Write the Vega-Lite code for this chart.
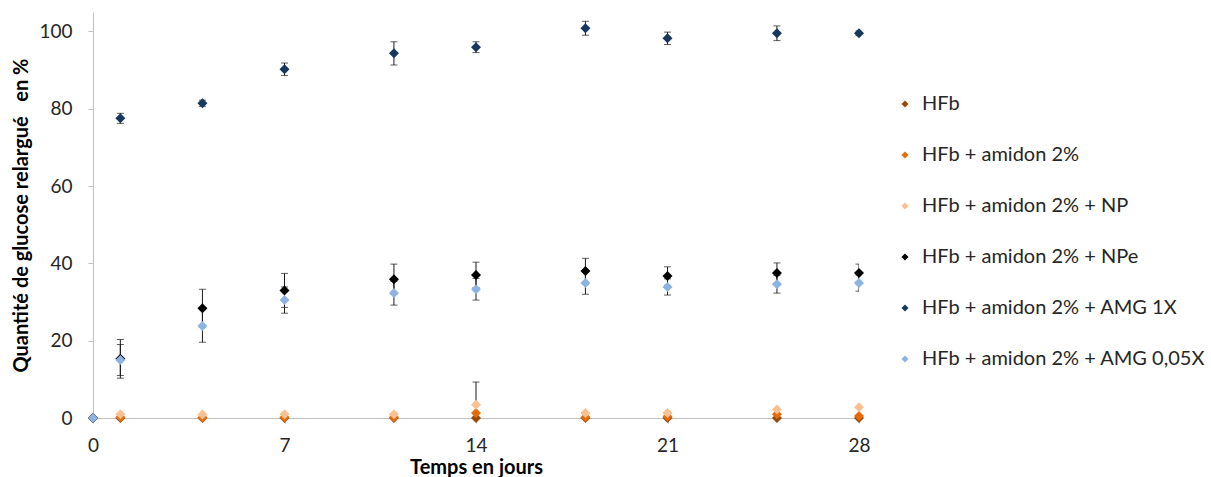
{
  "$schema": "https://vega.github.io/schema/vega-lite/v6.json",
  "autosize": "none",
  "width": 766,
  "height": 406,
  "padding": {"left": 93, "top": 12, "right": 352, "bottom": 59},
  "background": "white",
  "config": {
    "font": "Lato",
    "view": {"stroke": null},
    "axis": {"grid": false, "domainColor": "#BFBFBF", "tickColor": "#BFBFBF", "labelColor": "#262626", "labelFontSize": 19, "titleFontSize": 20, "titleColor": "#000000", "titleFontWeight": "bold", "labelFont": "Lato", "titleFont": "Lato"},
    "legend": {"labelFont": "Lato", "labelFontSize": 20, "labelColor": "#262626", "labelLimit": 400}
  },
  "data": {"values": [
    {"s": "HFb", "t": 0, "v": 0, "e": 0},
    {"s": "HFb", "t": 1, "v": 0, "e": 0},
    {"s": "HFb", "t": 4, "v": 0, "e": 0},
    {"s": "HFb", "t": 7, "v": 0, "e": 0},
    {"s": "HFb", "t": 11, "v": 0, "e": 0},
    {"s": "HFb", "t": 14, "v": 0, "e": 0},
    {"s": "HFb", "t": 18, "v": 0, "e": 0},
    {"s": "HFb", "t": 21, "v": 0, "e": 0},
    {"s": "HFb", "t": 25, "v": 0, "e": 0},
    {"s": "HFb", "t": 28, "v": 0, "e": 0},
    {"s": "HFb + amidon 2%", "t": 0, "v": 0, "e": 0},
    {"s": "HFb + amidon 2%", "t": 1, "v": 0.2, "e": 0},
    {"s": "HFb + amidon 2%", "t": 4, "v": 0.1, "e": 0},
    {"s": "HFb + amidon 2%", "t": 7, "v": 0.2, "e": 0},
    {"s": "HFb + amidon 2%", "t": 11, "v": 0.2, "e": 0},
    {"s": "HFb + amidon 2%", "t": 14, "v": 1.3, "e": 0},
    {"s": "HFb + amidon 2%", "t": 18, "v": 0.2, "e": 0},
    {"s": "HFb + amidon 2%", "t": 21, "v": 0.4, "e": 0},
    {"s": "HFb + amidon 2%", "t": 25, "v": 1.0, "e": 0},
    {"s": "HFb + amidon 2%", "t": 28, "v": 0.5, "e": 0},
    {"s": "HFb + amidon 2% + NP", "t": 0, "v": 0, "e": 0},
    {"s": "HFb + amidon 2% + NP", "t": 1, "v": 1.0, "e": 0},
    {"s": "HFb + amidon 2% + NP", "t": 4, "v": 0.9, "e": 0},
    {"s": "HFb + amidon 2% + NP", "t": 7, "v": 1.0, "e": 0},
    {"s": "HFb + amidon 2% + NP", "t": 11, "v": 1.0, "e": 0},
    {"s": "HFb + amidon 2% + NP", "t": 14, "v": 3.4, "e": 5.9},
    {"s": "HFb + amidon 2% + NP", "t": 18, "v": 1.3, "e": 0},
    {"s": "HFb + amidon 2% + NP", "t": 21, "v": 1.3, "e": 0},
    {"s": "HFb + amidon 2% + NP", "t": 25, "v": 2.2, "e": 0},
    {"s": "HFb + amidon 2% + NP", "t": 28, "v": 2.8, "e": 0},
    {"s": "HFb + amidon 2% + NPe", "t": 0, "v": 0, "e": 0},
    {"s": "HFb + amidon 2% + NPe", "t": 1, "v": 15.3, "e": 5.0},
    {"s": "HFb + amidon 2% + NPe", "t": 4, "v": 28.4, "e": 4.9},
    {"s": "HFb + amidon 2% + NPe", "t": 7, "v": 33.0, "e": 4.4},
    {"s": "HFb + amidon 2% + NPe", "t": 11, "v": 35.9, "e": 3.9},
    {"s": "HFb + amidon 2% + NPe", "t": 14, "v": 37.0, "e": 3.3},
    {"s": "HFb + amidon 2% + NPe", "t": 18, "v": 38.0, "e": 3.3},
    {"s": "HFb + amidon 2% + NPe", "t": 21, "v": 36.7, "e": 2.4},
    {"s": "HFb + amidon 2% + NPe", "t": 25, "v": 37.5, "e": 2.6},
    {"s": "HFb + amidon 2% + NPe", "t": 28, "v": 37.5, "e": 2.3},
    {"s": "HFb + amidon 2% + AMG 1X", "t": 0, "v": 0, "e": 0},
    {"s": "HFb + amidon 2% + AMG 1X", "t": 1, "v": 77.5, "e": 1.3},
    {"s": "HFb + amidon 2% + AMG 1X", "t": 4, "v": 81.4, "e": 0.8},
    {"s": "HFb + amidon 2% + AMG 1X", "t": 7, "v": 90.2, "e": 1.6},
    {"s": "HFb + amidon 2% + AMG 1X", "t": 11, "v": 94.3, "e": 3.0},
    {"s": "HFb + amidon 2% + AMG 1X", "t": 14, "v": 95.9, "e": 1.4},
    {"s": "HFb + amidon 2% + AMG 1X", "t": 18, "v": 100.8, "e": 1.8},
    {"s": "HFb + amidon 2% + AMG 1X", "t": 21, "v": 98.2, "e": 1.6},
    {"s": "HFb + amidon 2% + AMG 1X", "t": 25, "v": 99.5, "e": 1.9},
    {"s": "HFb + amidon 2% + AMG 1X", "t": 28, "v": 99.5, "e": 0.6},
    {"s": "HFb + amidon 2% + AMG 0,05X", "t": 0, "v": 0, "e": 0},
    {"s": "HFb + amidon 2% + AMG 0,05X", "t": 1, "v": 15.0, "e": 4.0},
    {"s": "HFb + amidon 2% + AMG 0,05X", "t": 4, "v": 23.8, "e": 4.2},
    {"s": "HFb + amidon 2% + AMG 0,05X", "t": 7, "v": 30.5, "e": 3.4},
    {"s": "HFb + amidon 2% + AMG 0,05X", "t": 11, "v": 32.3, "e": 3.1},
    {"s": "HFb + amidon 2% + AMG 0,05X", "t": 14, "v": 33.3, "e": 2.8},
    {"s": "HFb + amidon 2% + AMG 0,05X", "t": 18, "v": 34.9, "e": 2.9},
    {"s": "HFb + amidon 2% + AMG 0,05X", "t": 21, "v": 33.9, "e": 2.1},
    {"s": "HFb + amidon 2% + AMG 0,05X", "t": 25, "v": 34.6, "e": 2.3},
    {"s": "HFb + amidon 2% + AMG 0,05X", "t": 28, "v": 34.9, "e": 2.1}
  ]},
  "encoding": {
    "x": {"field": "t", "type": "quantitative", "scale": {"domain": [0, 28], "nice": false, "zero": false}, "axis": {"values": [0, 7, 14, 21, 28], "title": "Temps en jours", "tickSize": 5, "labelPadding": 13, "labelFlush": false, "titlePadding": 2}},
    "y": {"field": "v", "type": "quantitative", "scale": {"domain": [0, 105], "nice": false}, "axis": {"values": [0, 20, 40, 60, 80, 100], "title": "Quantité de glucose relargué\u00a0\u00a0 en %", "tickSize": 5, "labelPadding": 16, "titlePadding": 7}}
  },
  "layer": [
    {
      "transform": [{"filter": "datum.e > 0"}],
      "mark": {"type": "errorbar", "clip": true, "ticks": {"size": 7, "color": "#1a1a1a"}, "color": "#1a1a1a", "thickness": 1},
      "encoding": {
        "yError": {"field": "e"}
      }
    },
    {
      "mark": {"type": "point", "shape": "diamond", "filled": true, "opacity": 1, "size": 100},
      "encoding": {
        "color": {"field": "s", "type": "nominal", "scale": {"domain": ["HFb", "HFb + amidon 2%", "HFb + amidon 2% + NP", "HFb + amidon 2% + NPe", "HFb + amidon 2% + AMG 1X", "HFb + amidon 2% + AMG 0,05X"], "range": ["#984807", "#E46C0A", "#FAC090", "#000000", "#17375E", "#8DB3E2"]},
          "legend": {"title": null, "orient": "none", "legendX": 802, "legendY": 82, "symbolType": "diamond", "symbolSize": 50, "rowPadding": 31, "labelOffset": 7, "padding": 0}}
      }
    }
  ]
}
